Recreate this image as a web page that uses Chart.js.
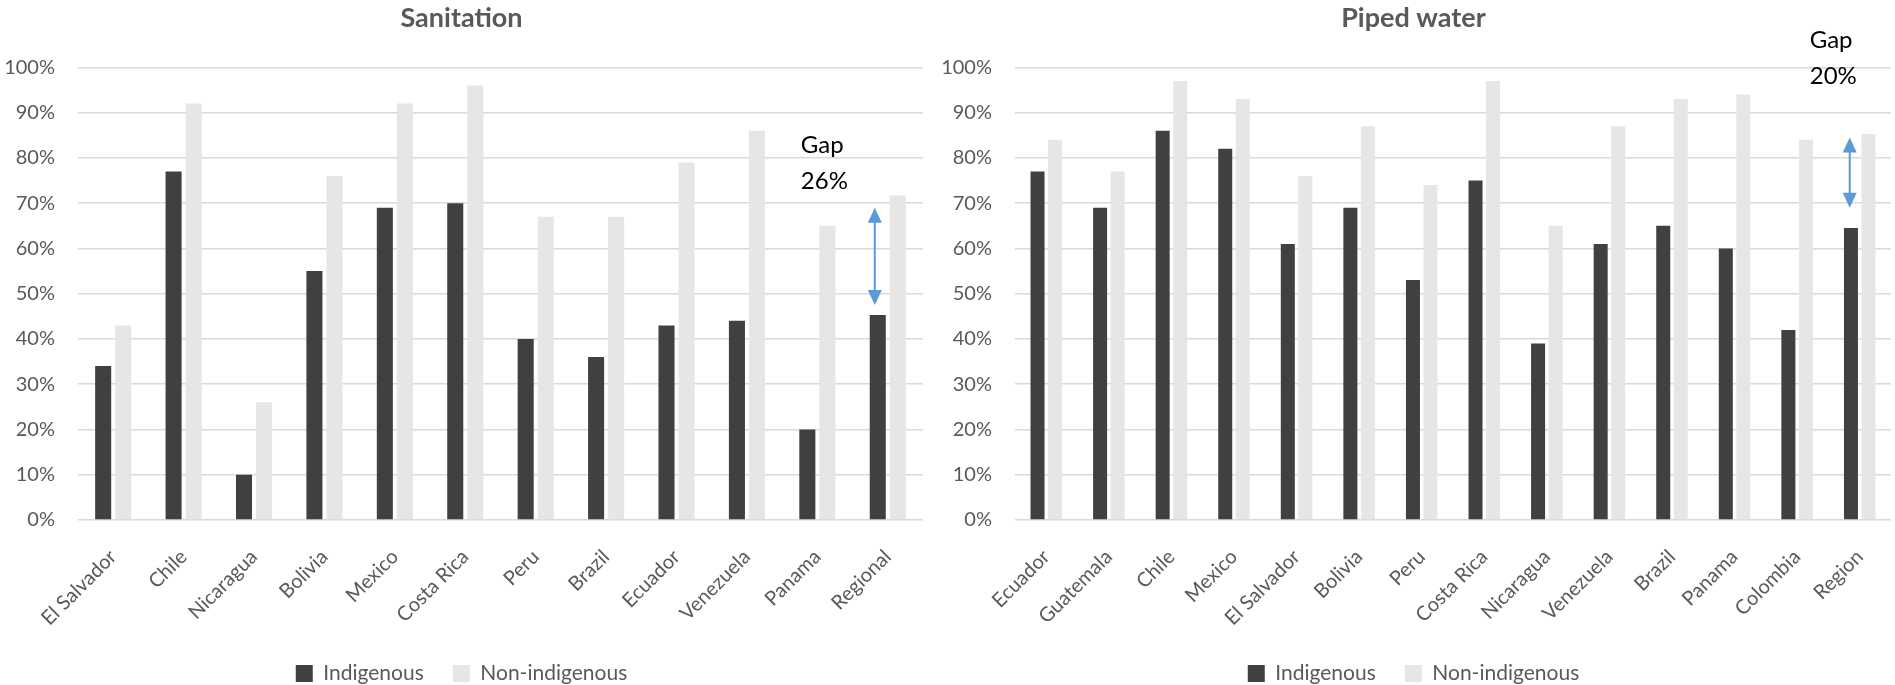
<!DOCTYPE html>
<html>
<head>
<meta charset="utf-8">
<title>Sanitation and piped water</title>
<script src="https://cdn.jsdelivr.net/npm/chart.js@4.4.0/dist/chart.umd.min.js"></script>
<style>
  html, body { margin: 0; padding: 0; background: #fff; overflow: hidden; }
  #wrap { position: relative; width: 1895px; height: 685px; overflow: hidden; }
  .box { position: absolute; top: 0; height: 694px; }
  #left { left: 0; width: 938px; }
  #right { left: 936px; width: 959px; }
</style>
</head>
<body>
<div id="wrap">
  <div class="box" id="left"><canvas id="sanitation"></canvas></div>
  <div class="box" id="right"><canvas id="water"></canvas></div>
</div>
<script>
// Sanitation (%)
var sanitationCountries = ['El Salvador', 'Chile', 'Nicaragua', 'Bolivia', 'Mexico', 'Costa Rica',
  'Peru', 'Brazil', 'Ecuador', 'Venezuela', 'Panama', 'Regional'];
var sanitationIndigenous = [34, 77, 10, 55, 69, 70, 40, 36, 43, 44, 20, 45.3];
var sanitationNonIndigenous = [43, 92, 26, 76, 92, 96, 67, 67, 79, 86, 65, 71.7];
var sanitationGap = ['Gap', '26%'];

// Piped water (%)
var waterCountries = ['Ecuador', 'Guatemala', 'Chile', 'Mexico', 'El Salvador', 'Bolivia', 'Peru',
  'Costa Rica', 'Nicaragua', 'Venezuela', 'Brazil', 'Panama', 'Colombia', 'Region'];
var waterIndigenous = [77, 69, 86, 82, 61, 69, 53, 75, 39, 61, 65, 60, 42, 64.5];
var waterNonIndigenous = [84, 77, 97, 93, 76, 87, 74, 97, 65, 87, 93, 94, 84, 85.3];
var waterGap = ['Gap', '20%'];

var seriesNames = ['Indigenous', 'Non-indigenous'];

var DARK = '#404040';
var LIGHT = '#e7e6e6';
var GRID = '#d9d9d9';
var TEXT = '#595959';
var ARROW = '#5b9bd5';

Chart.defaults.font.family = 'Lato, "Liberation Sans", sans-serif';
Chart.defaults.color = TEXT;

// draws the "Gap" note and the double arrow on the last category
var gapPlugin = {
  id: 'gapArrow',
  afterDatasetsDraw: function(chart, args, opts) {
    if (!opts || !opts.lines) return;
    var ctx = chart.ctx;
    var xs = chart.scales.x, ys = chart.scales.y;
    var cx = xs.getPixelForValue(opts.index);
    var ax = cx + opts.arrowDx;
    var yTop = ys.getPixelForValue(opts.arrowTo);
    var yBot = ys.getPixelForValue(opts.arrowFrom);
    var hw = 7, hl = 15;

    ctx.save();
    ctx.strokeStyle = ARROW;
    ctx.fillStyle = ARROW;
    ctx.lineWidth = 2;
    ctx.beginPath();
    ctx.moveTo(ax, yTop + hl - 2);
    ctx.lineTo(ax, yBot - hl + 2);
    ctx.stroke();
    ctx.beginPath();
    ctx.moveTo(ax, yTop);
    ctx.lineTo(ax - hw, yTop + hl);
    ctx.lineTo(ax + hw, yTop + hl);
    ctx.closePath();
    ctx.fill();
    ctx.beginPath();
    ctx.moveTo(ax, yBot);
    ctx.lineTo(ax - hw, yBot - hl);
    ctx.lineTo(ax + hw, yBot - hl);
    ctx.closePath();
    ctx.fill();

    ctx.fillStyle = '#000';
    ctx.font = '24px ' + Chart.defaults.font.family;
    ctx.textAlign = 'left';
    ctx.textBaseline = 'middle';
    var ty = ys.getPixelForValue(opts.textAt);
    opts.lines.forEach(function(line, i) {
      ctx.fillText(line, cx + opts.textDx, ty + i * 36);
    });
    ctx.restore();
  }
};

function makeChart(canvasId, title, labels, indigenous, nonIndigenous, yWidth, padRight, catPct, gap) {
  return new Chart(document.getElementById(canvasId), {
    type: 'bar',
    data: {
      labels: labels,
      datasets: [{
        label: seriesNames[0],
        data: indigenous,
        backgroundColor: DARK,
        categoryPercentage: catPct,
        barPercentage: 0.8
      }, {
        label: seriesNames[1],
        data: nonIndigenous,
        backgroundColor: LIGHT,
        categoryPercentage: catPct,
        barPercentage: 0.8
      }]
    },
    options: {
      responsive: true,
      maintainAspectRatio: false,
      animation: false,
      layout: { padding: { left: 0, right: padRight, top: 0, bottom: 0 } },
      scales: {
        x: {
          grid: { display: false },
          border: { display: false },
          ticks: {
            minRotation: 45,
            maxRotation: 45,
            autoSkip: false,
            padding: 17,
            color: TEXT,
            font: { size: 20 }
          },
          afterFit: function(scale) { scale.height = 114; }
        },
        y: {
          min: 0,
          max: 100,
          border: { display: false },
          grid: { color: GRID, lineWidth: 1.5, drawTicks: false },
          ticks: {
            stepSize: 10,
            padding: 23,
            color: TEXT,
            font: { size: 20 },
            callback: function(v) { return v + '%'; }
          },
          afterFit: function(scale) { scale.width = yWidth; }
        }
      },
      plugins: {
        title: {
          display: true,
          text: title,
          color: TEXT,
          font: { size: 27, weight: 'bold' },
          padding: { top: 2, bottom: 33 }
        },
        legend: {
          position: 'bottom',
          labels: {
            boxWidth: 17,
            boxHeight: 17,
            padding: 29,
            color: TEXT,
            font: { size: 21 }
          }
        },
        tooltip: { enabled: false },
        gapArrow: gap
      }
    },
    plugins: [gapPlugin]
  });
}

makeChart('sanitation', 'Sanitation', sanitationCountries, sanitationIndigenous, sanitationNonIndigenous,
  78, 15, 0.57,
  { index: sanitationCountries.length - 1, lines: sanitationGap, arrowFrom: 47.5, arrowTo: 69,
    arrowDx: -13, textAt: 82.8, textDx: -87 });

makeChart('water', 'Piped water', waterCountries, waterIndigenous, waterNonIndigenous,
  79, 4, 0.56,
  { index: waterCountries.length - 1, lines: waterGap, arrowFrom: 69, arrowTo: 84.5,
    arrowDx: -10, textAt: 106, textDx: -50 });
</script>
</body>
</html>
